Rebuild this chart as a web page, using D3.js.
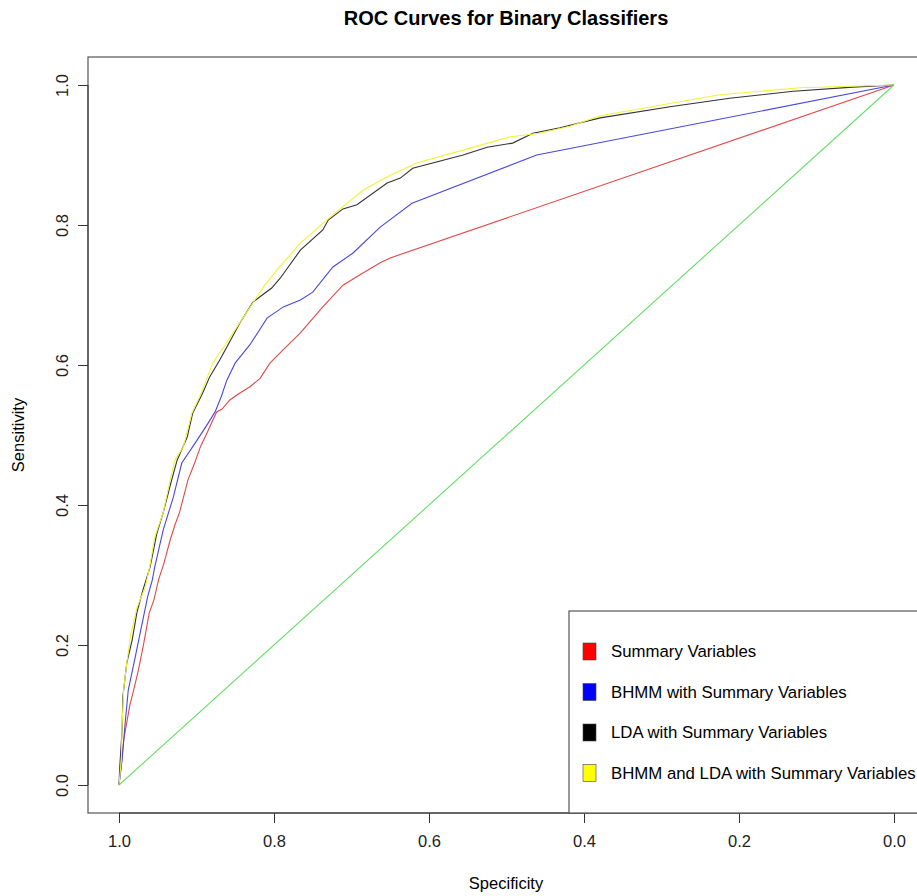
<!DOCTYPE html>
<html>
<head>
<meta charset="utf-8">
<script src="https://cdn.jsdelivr.net/npm/d3@7"></script>
<style>
  body { margin: 0; background: #fff; }
  svg { font-family: "Liberation Sans", Arial, Helvetica, sans-serif; }
</style>
</head>
<body>
<svg width="917" height="896"></svg>
<script>
// ROC points as [specificity, sensitivity]
var summaryVars = [[1,0],[0.997,0.029],[0.994,0.064],[0.990,0.089],[0.986,0.114],[0.981,0.136],[0.975,0.164],
  [0.969,0.197],[0.965,0.221],[0.961,0.246],[0.955,0.264],[0.949,0.293],[0.942,0.317],[0.934,0.350],[0.928,0.371],
  [0.922,0.389],[0.911,0.436],[0.902,0.461],[0.895,0.483],[0.886,0.504],[0.879,0.521],[0.874,0.533],[0.867,0.537],
  [0.857,0.550],[0.844,0.560],[0.831,0.569],[0.818,0.581],[0.805,0.603],[0.786,0.624],[0.766,0.646],[0.737,0.683],
  [0.711,0.714],[0.689,0.729],[0.663,0.746],[0.650,0.753],[0,1]];

var bhmmVars = [[1,0],[0.996,0.036],[0.992,0.089],[0.988,0.136],[0.979,0.183],[0.972,0.221],[0.963,0.269],
  [0.957,0.293],[0.954,0.311],[0.943,0.364],[0.930,0.411],[0.919,0.460],[0.899,0.493],[0.885,0.517],[0.876,0.533],
  [0.868,0.555],[0.861,0.578],[0.850,0.603],[0.831,0.629],[0.809,0.667],[0.788,0.683],[0.766,0.693],[0.750,0.704],
  [0.724,0.740],[0.698,0.760],[0.663,0.797],[0.622,0.831],[0.461,0.900],[0,1]];

var ldaVars = [[1,0],[0.999,0.026],[0.996,0.079],[0.995,0.126],[0.990,0.174],[0.983,0.207],[0.977,0.246],
  [0.969,0.279],[0.960,0.311],[0.951,0.360],[0.943,0.389],[0.932,0.436],[0.925,0.464],[0.912,0.497],[0.905,0.531],
  [0.892,0.560],[0.883,0.583],[0.870,0.607],[0.844,0.660],[0.827,0.690],[0.803,0.710],[0.792,0.724],[0.766,0.764],
  [0.737,0.793],[0.730,0.807],[0.711,0.823],[0.693,0.829],[0.654,0.860],[0.637,0.867],[0.621,0.881],[0.556,0.900],
  [0.525,0.911],[0.492,0.917],[0.466,0.931],[0.431,0.939],[0.379,0.953],[0.289,0.969],[0.212,0.981],[0.130,0.991],
  [0.053,0.997],[0,1]];

var bhmmLdaVars = [[1,0],[0.997,0.036],[0.996,0.086],[0.994,0.136],[0.990,0.174],[0.985,0.214],[0.977,0.253],
  [0.966,0.283],[0.960,0.314],[0.954,0.354],[0.943,0.389],[0.934,0.436],[0.928,0.464],[0.917,0.483],[0.906,0.531],
  [0.895,0.557],[0.879,0.603],[0.863,0.629],[0.848,0.654],[0.827,0.689],[0.812,0.714],[0.796,0.736],[0.766,0.774],
  [0.732,0.807],[0.708,0.829],[0.685,0.850],[0.650,0.871],[0.615,0.889],[0.556,0.907],[0.495,0.926],[0.457,0.931],
  [0.418,0.941],[0.379,0.956],[0.225,0.986],[0.121,0.996],[0,1]];

var chance = [[1,0],[0,1]];

var legendLabels = ["Summary Variables", "BHMM with Summary Variables",
                    "LDA with Summary Variables", "BHMM and LDA with Summary Variables"];
var legendColors = ["red", "blue", "black", "yellow"];
var tickValues = [1.0, 0.8, 0.6, 0.4, 0.2, 0.0];

var svg = d3.select("svg");

var x = d3.scaleLinear().domain([1.04, -0.04]).range([88, 925]);
var y = d3.scaleLinear().domain([-0.04, 1.04]).range([813, 57]);

var line = d3.line()
    .x(function(d) { return x(d[0]); })
    .y(function(d) { return y(d[1]); });

// title
svg.append("text")
    .attr("x", 506).attr("y", 25)
    .attr("text-anchor", "middle")
    .attr("font-size", 20).attr("font-weight", "bold")
    .text("ROC Curves for Binary Classifiers");

// plot frame
svg.append("rect")
    .attr("x", 88).attr("y", 57)
    .attr("width", 837).attr("height", 756)
    .attr("fill", "none").attr("stroke", "#555").attr("stroke-width", 1.2);

// x axis
var gx = svg.append("g")
    .attr("transform", "translate(0,813)")
    .call(d3.axisBottom(x).tickValues(tickValues).tickSize(10).tickPadding(12).tickFormat(d3.format(".1f")));
gx.select(".domain").remove();
gx.append("line").attr("x1", x(1)).attr("x2", x(0)).attr("stroke", "#333");
gx.selectAll("text").attr("font-size", 16.5).attr("fill", "#222").attr("font-family", "inherit");
gx.selectAll(".tick line").attr("stroke", "#333");

// y axis
var gy = svg.append("g")
    .attr("transform", "translate(88,0)")
    .call(d3.axisLeft(y).tickValues(tickValues).tickSize(10).tickFormat(d3.format(".1f")));
gy.select(".domain").remove();
gy.append("line").attr("y1", y(0)).attr("y2", y(1)).attr("stroke", "#333");
gy.selectAll(".tick line").attr("stroke", "#333");
gy.selectAll("text")
    .attr("font-size", 16.5).attr("fill", "#222").attr("font-family", "inherit")
    .attr("x", null).attr("dy", null)
    .attr("text-anchor", "middle")
    .attr("transform", "translate(-20,0) rotate(-90)");

svg.append("text")
    .attr("x", 506).attr("y", 889)
    .attr("text-anchor", "middle").attr("font-size", 16.5)
    .text("Specificity");

svg.append("text")
    .attr("transform", "translate(24,435) rotate(-90)")
    .attr("text-anchor", "middle").attr("font-size", 16.5)
    .text("Sensitivity");

// curves
var curves = [
  {data: summaryVars, color: "#e04848"},
  {data: bhmmVars, color: "#4848e0"},
  {data: ldaVars, color: "#333333"},
  {data: bhmmLdaVars, color: "#f2f23a"},
  {data: chance, color: "#66dd66"}
];

svg.append("g").selectAll("path")
    .data(curves)
  .enter().append("path")
    .attr("d", function(d) { return line(d.data); })
    .attr("fill", "none")
    .attr("stroke", function(d) { return d.color; })
    .attr("stroke-width", 1.1);

// legend
svg.append("rect")
    .attr("x", 569).attr("y", 611)
    .attr("width", 360).attr("height", 202)
    .attr("fill", "#fff").attr("stroke", "#555").attr("stroke-width", 1.2);

var leg = svg.append("g").selectAll("g")
    .data(legendLabels)
  .enter().append("g")
    .attr("transform", function(d, i) { return "translate(583," + (651 + i * 40.5) + ")"; });

leg.append("rect")
    .attr("x", 0).attr("y", -8)
    .attr("width", 13).attr("height", 17)
    .attr("fill", function(d, i) { return legendColors[i]; })
    .attr("stroke", "#444").attr("stroke-width", 0.6);

leg.append("text")
    .attr("x", 28).attr("y", 6)
    .attr("font-size", 16.8)
    .text(function(d) { return d; });
</script>
</body>
</html>
